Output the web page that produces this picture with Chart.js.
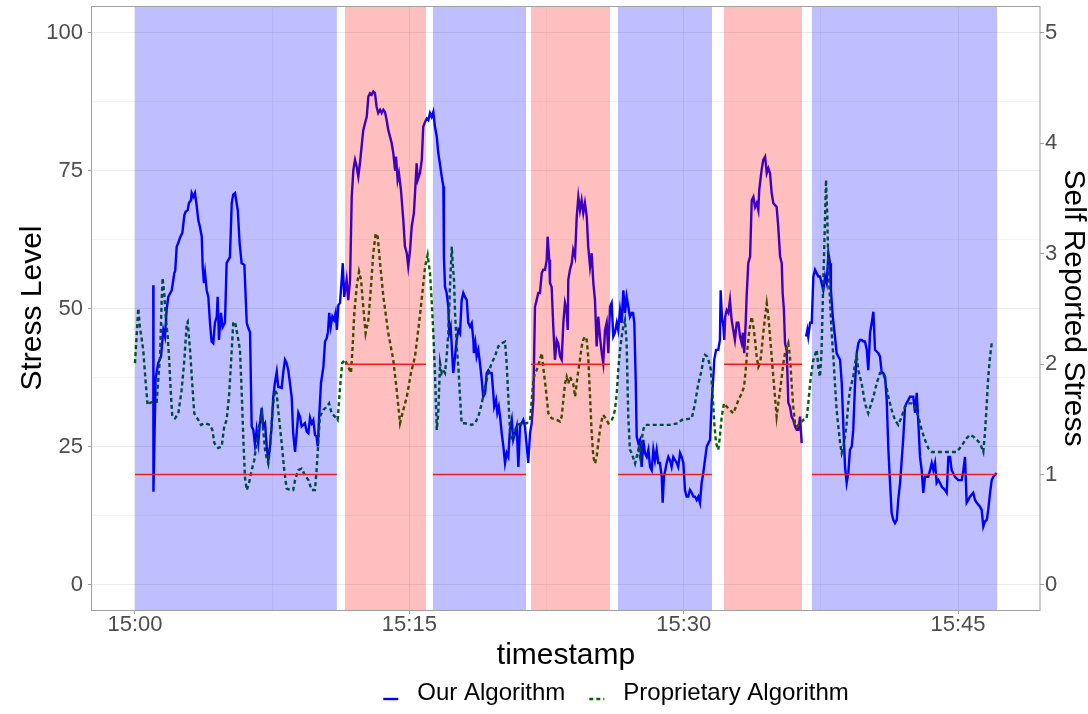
<!DOCTYPE html>
<html>
<head>
<meta charset="utf-8">
<title>Stress level</title>
<script src="https://cdn.jsdelivr.net/npm/chart.js@4.4.1/dist/chart.umd.min.js"></script>
<style>
  html, body { margin: 0; padding: 0; background: #fff; }
  #wrap { width: 1088px; height: 714px; }
</style>
</head>
<body>
<div id="wrap"><canvas id="stressChart" width="1088" height="714"></canvas></div>
<script>
// minutes after 15:00
const ourTime = [1.00,1.01,1.13,1.27,1.42,1.55,1.64,1.73,1.82,2.01,2.15,2.20,2.28,2.37,2.46,2.59,2.70,2.77,2.88,2.95,
  3.06,3.10,3.19,3.28,3.37,3.46,3.55,3.65,3.70,3.77,3.83,3.92,4.01,4.10,4.19,4.28,4.37,4.47,4.52,4.59,
  4.70,4.79,4.92,5.01,5.19,5.29,5.37,5.47,5.62,5.72,5.83,5.98,6.11,6.19,6.29,6.38,6.47,6.56,6.65,6.74,
  6.83,6.93,7.01,7.11,7.20,7.29,7.38,7.47,7.56,7.65,7.75,7.83,8.02,8.11,8.20,8.29,8.38,8.47,8.57,8.65,
  8.75,8.84,8.93,9.02,9.11,9.29,9.39,9.48,9.57,9.66,9.75,9.84,9.93,9.99,10.06,10.17,10.30,10.39,10.48,10.55,
  10.62,10.70,10.79,10.88,10.97,11.04,11.12,11.21,11.30,11.36,11.44,11.57,11.66,11.76,11.85,11.94,12.03,12.12,12.21,12.30,
  12.39,12.48,12.58,12.67,12.76,12.85,12.94,13.03,13.12,13.21,13.30,13.40,13.49,13.58,13.67,13.76,13.85,14.03,14.12,14.22,
  14.27,14.36,14.43,14.54,14.67,14.76,14.86,14.94,15.04,15.13,15.25,15.31,15.40,15.46,15.58,15.68,15.76,15.86,15.95,16.04,
  16.13,16.22,16.31,16.40,16.50,16.58,16.68,16.77,16.86,16.89,16.95,17.04,17.13,17.18,17.26,17.32,17.40,17.50,17.59,17.68,
  17.77,17.86,17.95,18.04,18.14,18.22,18.32,18.41,18.50,18.53,18.61,18.68,18.77,18.86,18.96,19.04,19.14,19.23,19.32,19.41,
  19.50,19.59,19.64,19.74,19.81,19.89,19.96,20.05,20.14,20.23,20.32,20.41,20.50,20.60,20.68,20.78,20.87,20.96,21.05,21.14,
  21.23,21.32,21.42,21.50,21.60,21.69,21.78,21.87,21.96,22.05,22.14,22.24,22.32,22.42,22.51,22.56,22.65,22.69,22.78,22.87,
  22.96,23.06,23.14,23.24,23.33,23.42,23.51,23.60,23.66,23.69,23.78,23.88,23.96,24.06,24.15,24.24,24.33,24.42,24.51,24.60,
  24.70,24.78,24.88,24.97,25.06,25.15,25.24,25.33,25.42,25.52,25.60,25.70,25.79,25.88,25.97,26.06,26.15,26.24,26.34,26.42,
  26.52,26.61,26.70,26.79,26.88,26.97,27.06,27.16,27.23,27.30,27.38,27.43,27.52,27.61,27.70,27.79,27.88,27.98,28.07,28.16,
  28.25,28.34,28.43,28.52,28.61,28.70,28.80,28.85,28.92,29.07,29.16,29.25,29.34,29.43,29.62,29.70,29.80,29.89,29.98,30.07,
  30.16,30.25,30.34,30.44,30.53,30.62,30.71,30.80,30.89,30.98,31.07,31.16,31.26,31.35,31.44,31.53,31.62,31.67,31.77,31.89,
  31.98,32.02,32.09,32.17,32.22,32.27,32.35,32.44,32.53,32.62,32.71,32.80,32.90,32.99,33.08,33.17,33.24,33.31,33.39,33.44,
  33.53,33.63,33.72,33.81,33.90,33.99,34.08,34.13,34.26,34.35,34.45,34.54,34.63,34.72,34.81,34.90,34.99,35.08,35.17,35.27,
  35.36,35.41,35.48,35.54,35.63,35.72,35.81,35.90,35.99,36.09,36.18,36.27,36.36,36.45,36.57,36.69,36.76,36.81,36.91,37.00,
  37.09,37.18,37.27,37.36,37.45,37.54,37.63,37.73,37.82,37.91,38.00,38.05,38.15,38.27,38.36,38.45,38.55,38.64,38.73,38.82,
  38.91,39.00,39.09,39.19,39.27,39.37,39.46,39.55,39.64,39.73,39.82,39.91,40.01,40.09,40.19,40.28,40.37,40.46,40.55,40.64,
  40.73,40.83,40.91,41.01,41.10,41.19,41.28,41.37,41.46,41.55,41.65,41.73,41.83,41.92,42.01,42.10,42.19,42.28,42.37,42.55,
  42.65,42.74,42.83,42.92,43.01,43.10,43.19,43.37,43.47,43.56,43.65,43.74,43.83,43.92,44.01,44.11,44.29,44.38,44.47,44.56,
  44.65,44.83,45.01,45.20,45.29,45.38,45.47,45.56,45.65,45.83,45.93,46.02,46.20,46.29,46.38,46.47,46.57,46.65,46.75,46.84,
  46.93,47.11];
const ourStress = [54.3,16.9,37.5,40.2,41.3,46.2,45.0,49.8,52.2,53.4,56.5,56.9,61.3,62.0,62.9,63.8,67.0,67.6,67.9,69.2,
  69.7,71.0,70.3,71.0,68.8,66.1,64.9,63.1,57.7,54.7,56.5,53.4,52.2,47.5,44.1,43.8,47.5,48.6,52.2,44.4,
  49.3,46.7,47.5,58.3,59.4,69.2,70.7,71.0,67.9,62.0,58.3,58.0,47.5,46.6,45.8,28.7,28.1,25.4,28.1,25.7,
  29.3,32.1,28.7,29.3,25.1,22.6,25.1,28.7,34.1,36.6,38.6,35.9,35.7,38.6,40.8,40.2,38.9,36.6,33.9,27.5,
  24.1,27.5,31.2,30.5,28.7,29.3,27.8,27.5,30.3,29.3,29.9,27.2,26.9,25.1,29.9,36.6,39.5,44.1,44.7,45.8,
  49.3,46.8,48.6,48.0,49.3,46.2,50.7,51.1,55.3,58.3,52.2,55.3,51.6,55.3,70.3,75.2,77.0,75.8,74.0,76.4,
  79.4,82.4,83.7,84.8,88.5,89.1,88.8,89.4,89.1,86.6,85.5,86.1,85.5,86.1,85.7,84.2,82.4,80.1,78.3,75.2,
  77.6,73.4,74.6,71.6,66.1,61.3,60.1,57.7,60.7,64.9,67.4,71.0,76.4,73.4,74.6,77.0,83.0,83.9,84.5,84.2,
  85.5,84.8,85.7,83.0,81.2,78.3,76.1,74.0,72.2,59.5,54.0,52.9,50.4,45.7,46.8,43.2,38.4,41.4,44.4,46.2,
  45.6,51.6,52.9,52.2,51.6,47.5,46.8,47.4,44.4,42.0,43.8,41.4,42.6,40.2,37.1,34.1,34.7,38.4,38.9,38.4,
  38.4,34.8,32.3,33.5,31.2,32.3,30.5,27.5,25.1,22.1,23.9,23.2,28.1,29.9,26.3,27.5,28.7,21.4,28.7,29.3,
  29.9,28.7,25.1,22.1,27.5,29.3,33.5,50.4,51.6,52.9,52.9,56.5,57.1,57.1,58.9,63.1,58.9,54.7,54.0,46.8,
  40.8,44.4,43.8,41.4,40.8,47.5,51.1,49.8,46.2,55.3,57.1,58.3,60.7,59.5,66.7,70.3,67.9,69.7,67.4,69.2,
  66.7,61.3,57.7,60.1,54.7,51.6,43.2,48.6,45.0,42.0,40.2,46.2,47.5,42.0,50.4,51.1,45.0,45.7,47.5,46.2,
  49.8,47.5,53.4,49.3,52.2,50.4,48.6,49.3,49.3,47.5,36.6,26.9,25.7,26.3,21.4,26.3,23.9,23.2,24.5,21.4,
  20.8,24.5,22.6,24.5,22.1,22.1,19.6,14.9,19.6,22.1,23.2,22.6,21.4,23.2,22.1,21.4,23.9,23.2,22.1,17.2,
  16.0,16.0,17.2,16.7,16.0,16.0,15.4,16.0,14.9,18.5,20.3,22.6,25.1,25.7,26.3,33.0,37.7,40.8,42.6,42.6,
  44.4,53.4,48.6,46.8,44.4,48.6,49.8,49.3,51.6,48.0,46.2,44.4,47.5,47.5,45.0,43.8,45.7,42.0,47.5,52.2,
  58.3,59.5,69.7,70.3,68.5,69.2,67.9,71.6,75.2,77.0,77.6,74.6,75.5,74.6,71.0,69.2,68.8,68.5,64.9,59.5,
  58.3,52.9,49.8,43.8,42.6,33.0,32.3,30.5,29.9,28.7,28.1,28.1,30.5,25.7,null,45.0,46.2,45.0,47.5,47.5,
  55.9,57.1,56.5,55.9,55.9,54.7,53.4,55.9,54.7,60.1,58.3,53.4,48.6,45.0,42.0,41.4,40.8,36.6,28.7,21.4,
  18.5,20.3,24.5,25.1,28.1,36.6,42.0,43.8,44.4,44.4,44.1,44.1,42.6,38.9,45.7,47.5,49.5,42.6,42.3,42.0,
  41.4,38.4,38.4,37.7,33.5,24.5,18.5,13.0,11.8,11.2,11.8,15.4,18.5,22.6,26.9,32.3,33.0,33.5,34.1,34.1,
  31.2,34.8,29.3,23.2,20.8,16.7,19.6,19.6,20.8,22.1,20.8,22.1,18.5,19.0,18.5,17.8,17.2,16.7,23.2,23.2,
  20.8,19.6,19.0,19.0,20.8,23.2,14.9,15.4,16.0,16.7,15.4,14.9,14.2,13.6,10.6,11.5,11.8,13.6,16.7,19.0,
  19.6,20.3];

const propTime = [0.00,0.18,0.27,0.45,0.59,0.69,0.82,1.00,1.19,1.27,1.37,1.46,1.51,1.60,1.68,1.79,1.88,1.95,2.04,2.19,
  2.37,2.55,2.70,2.83,2.88,3.01,3.13,3.24,3.46,3.61,3.83,4.10,4.23,4.34,4.55,4.74,4.88,5.01,5.14,5.25,
  5.37,5.47,5.62,5.74,5.83,5.92,6.01,6.11,6.23,6.38,6.52,6.65,6.78,6.93,7.01,7.11,7.20,7.29,7.38,7.47,
  7.56,7.65,7.75,7.83,8.02,8.16,8.29,8.47,8.65,8.75,8.93,9.11,9.29,9.48,9.66,9.84,9.93,10.02,10.11,10.30,
  10.48,10.61,10.75,10.93,11.08,11.21,11.33,11.48,11.66,11.81,11.88,11.99,12.12,12.25,12.36,12.48,12.61,12.76,12.90,13.03,
  13.16,13.27,13.40,13.58,13.85,14.12,14.31,14.49,14.67,14.86,15.09,15.31,15.53,15.71,15.86,16.00,16.13,16.22,16.31,16.40,
  16.50,16.58,16.68,16.77,16.86,16.95,17.04,17.13,17.22,17.32,17.37,17.44,17.50,17.59,17.68,17.77,17.86,18.04,18.41,18.59,
  18.77,18.96,19.14,19.32,19.50,19.68,19.86,20.05,20.23,20.32,20.41,20.50,20.60,20.68,20.87,21.14,21.42,21.60,21.69,21.78,
  21.87,21.96,22.14,22.24,22.32,22.47,22.60,22.78,23.06,23.24,23.33,23.42,23.51,23.60,23.69,23.78,23.96,24.06,24.15,24.24,
  24.33,24.42,24.51,24.60,24.70,24.78,24.88,24.97,25.06,25.15,25.24,25.33,25.42,25.52,25.60,25.79,25.88,26.06,26.15,26.24,
  26.34,26.42,26.52,26.61,26.70,26.79,26.88,26.93,26.97,27.06,27.16,27.34,27.43,27.52,27.61,27.70,27.79,27.88,28.61,29.25,
  29.70,29.89,30.44,30.62,30.80,30.98,31.07,31.16,31.29,31.40,31.49,31.59,31.67,31.77,31.89,31.98,32.08,32.20,32.35,32.53,
  32.71,32.86,32.99,33.17,33.30,33.39,33.48,33.59,33.72,33.81,33.90,33.99,34.08,34.18,34.26,34.35,34.45,34.54,34.63,34.72,
  34.81,34.90,34.99,35.08,35.17,35.27,35.36,35.45,35.54,35.72,35.81,35.90,35.99,36.09,36.18,36.36,36.54,36.72,36.81,36.91,
  37.00,37.09,37.27,37.36,37.45,37.54,37.63,37.73,37.78,37.85,37.91,38.00,38.09,38.18,38.27,38.36,38.55,38.64,38.73,38.82,
  38.91,39.00,39.09,39.27,39.37,39.46,39.55,39.73,39.91,40.09,40.37,40.55,40.73,40.91,41.01,41.19,41.37,41.55,41.73,41.92,
  42.10,42.28,42.46,42.65,42.83,43.01,43.19,43.37,43.56,44.92,45.10,45.29,45.47,45.65,45.83,46.02,46.20,46.38,46.47,46.57,
  46.65,46.75,46.84,46.97];
const propStress = [40.2,50.1,46.8,42.6,36.5,32.6,33.0,33.2,33.2,37.1,41.4,51.6,55.6,52.8,48.6,45.0,40.2,35.3,30.5,30.2,
  31.1,35.3,40.8,47.4,47.7,42.6,36.5,31.1,29.9,29.0,29.3,29.0,28.1,25.7,24.8,25.1,28.7,29.9,34.1,40.2,
  47.4,47.7,45.0,42.6,35.3,26.9,19.6,17.2,18.4,20.8,22.6,25.7,28.7,31.1,28.1,24.5,23.0,22.0,24.5,29.3,
  32.9,35.3,34.7,31.7,25.7,20.8,17.5,17.2,17.2,19.0,20.8,21.1,19.9,19.0,17.2,17.2,20.8,25.7,30.5,31.7,
  32.3,32.9,31.1,30.5,29.9,35.7,40.2,40.8,39.5,38.4,42.0,49.2,54.0,56.8,55.3,50.4,45.6,48.0,54.0,60.1,
  63.7,63.1,58.3,52.2,45.6,40.8,35.3,29.3,31.7,34.1,38.4,41.4,47.4,52.8,57.7,59.8,56.5,51.6,45.6,38.4,
  28.1,31.1,40.2,38.4,38.9,38.4,41.4,45.6,54.0,61.3,58.3,55.3,49.2,43.2,39.5,34.1,29.3,29.3,29.0,29.3,
  30.5,32.9,35.9,38.4,40.2,41.4,43.2,43.8,44.1,40.2,34.1,28.1,26.3,26.9,29.0,29.3,29.3,29.9,33.5,37.1,
  38.4,38.9,40.8,42.0,39.5,35.3,31.1,30.2,29.9,29.6,30.5,33.5,36.5,37.7,36.5,37.7,36.5,34.1,36.5,38.9,
  40.8,43.2,44.4,45.0,44.4,41.4,34.1,27.5,23.2,22.0,23.2,25.7,28.1,29.9,30.8,29.9,29.3,29.9,30.5,31.7,
  34.7,38.9,42.6,45.0,46.8,48.0,43.8,36.5,30.5,24.5,23.9,22.0,23.2,24.5,23.2,26.3,28.1,29.0,29.0,29.0,
  29.3,29.9,30.2,32.9,36.5,38.9,40.8,41.7,41.4,40.2,38.9,34.1,29.3,25.7,24.5,26.9,30.5,32.9,32.3,31.7,
  31.1,32.3,33.5,34.7,35.9,38.9,42.6,46.2,48.6,46.8,44.4,41.4,39.5,40.2,42.6,45.6,48.6,51.0,48.6,45.0,
  41.4,37.7,34.1,30.5,32.9,35.3,37.7,40.2,42.0,43.8,41.4,36.5,32.3,29.3,28.7,29.3,29.9,30.2,32.9,36.5,
  38.9,40.8,42.6,39.5,37.7,42.6,54.7,66.7,73.4,66.7,57.7,51.6,45.6,41.4,36.5,31.7,25.7,23.9,25.1,26.9,
  29.3,32.9,35.3,37.7,40.2,41.4,38.9,36.5,32.9,31.1,34.1,36.5,38.4,38.4,37.1,34.1,31.7,29.9,29.0,30.5,
  32.3,32.9,32.9,32.3,30.5,28.1,26.3,24.8,24.1,24.1,24.8,25.7,26.6,27.2,26.9,26.3,25.7,24.1,27.5,32.9,
  37.7,41.4,43.8,44.1];

// session blocks: baseline (blue) / stressor (red) with the self-reported score
const phaseStart = [0.00, 11.48, 16.29, 21.65, 26.41, 32.20, 37.01];
const phaseEnd = [11.04, 15.91, 21.38, 25.97, 31.55, 36.47, 47.13];
const phaseKind = ['baseline', 'stressor', 'baseline', 'stressor', 'baseline', 'stressor', 'baseline'];
const selfReported = [1, 2, 1, 2, 1, 2, 1];

const xTickValues = [0, 15, 30, 45];
const xTickLabels = ['15:00', '15:15', '15:30', '15:45'];

const FONT = '"Liberation Sans", Arial, Helvetica, sans-serif';
Chart.defaults.font.family = FONT;

const xMin = -2.35, xMax = 49.48;
const yMin = -4.53, yMax = 104.89;

const GRID_MAJOR = 'rgba(0,0,0,0.08)';
const GRID_MINOR = 'rgba(0,0,0,0.045)';
const TICK_COL = '#a0a0a0';

const toPoints = (xs, ys) => xs.map((t, i) => ({x: t, y: ys[i]}));

const shading = {
  id: 'shading',
  afterDatasetsDraw(chart) {
    const {ctx, chartArea: a, scales: {x, y2}} = chart;
    ctx.save();
    // translucent blocks go over the traces
    phaseStart.forEach((s, i) => {
      const x0 = x.getPixelForValue(s), x1 = x.getPixelForValue(phaseEnd[i]);
      ctx.fillStyle = phaseKind[i] === 'stressor' ? 'rgba(255,0,0,0.25)' : 'rgba(0,0,255,0.25)';
      ctx.fillRect(x0, a.top, x1 - x0, a.bottom - a.top);
    });
    ctx.strokeStyle = 'rgb(240,30,30)';
    ctx.lineWidth = 1.5;
    phaseStart.forEach((s, i) => {
      const x0 = x.getPixelForValue(s), x1 = x.getPixelForValue(phaseEnd[i]);
      const yy = y2.getPixelForValue(selfReported[i]);
      ctx.beginPath();
      ctx.moveTo(x0, yy);
      ctx.lineTo(x1, yy);
      ctx.stroke();
    });
    ctx.strokeStyle = TICK_COL;
    ctx.lineWidth = 1;
    ctx.strokeRect(a.left - 0.5, a.top + 0.5, a.right - a.left + 0.5, a.bottom - a.top);
    ctx.restore();
  }
};

const keyRow = {
  id: 'keyRow',
  afterDraw(chart) {
    const {ctx} = chart;
    const keyLen = 15, keyGap = 19, itemGap = 24;
    const centerX = 616, baseY = 700, lineY = 699;
    ctx.save();
    ctx.font = '24px ' + FONT;
    const items = chart.data.datasets.map(d => ({
      text: d.label, color: d.borderColor, dash: d.borderDash || [], w: ctx.measureText(d.label).width
    }));
    let total = 0;
    items.forEach((it, i) => { total += keyLen + keyGap + it.w + (i ? itemGap : 0); });
    let cx = centerX - total / 2;
    items.forEach((it, i) => {
      if (i) cx += itemGap;
      ctx.strokeStyle = it.color;
      ctx.lineWidth = 2.4;
      ctx.setLineDash(it.dash);
      ctx.beginPath();
      ctx.moveTo(cx, lineY);
      ctx.lineTo(cx + keyLen, lineY);
      ctx.stroke();
      ctx.setLineDash([]);
      cx += keyLen + keyGap;
      ctx.fillStyle = '#000';
      ctx.textBaseline = 'alphabetic';
      ctx.fillText(it.text, cx, baseY);
      cx += it.w;
    });
    ctx.restore();
  }
};

new Chart(document.getElementById('stressChart'), {
  type: 'line',
  data: {
    datasets: [{
      label: 'Our Algorithm',
      data: toPoints(ourTime, ourStress),
      borderColor: 'rgb(0,0,255)',
      borderWidth: 2.4,
      pointRadius: 0,
      tension: 0,
      yAxisID: 'y',
      order: 2
    }, {
      label: 'Proprietary Algorithm',
      data: toPoints(propTime, propStress),
      borderColor: 'rgb(0,100,0)',
      borderDash: [4, 3],
      borderWidth: 2.4,
      pointRadius: 0,
      tension: 0,
      yAxisID: 'y',
      order: 1
    }]
  },
  options: {
    responsive: false,
    animation: false,
    devicePixelRatio: 1,
    layout: { padding: { top: 6, left: 0, right: 0, bottom: 43.5 } },
    plugins: { legend: { display: false }, tooltip: { enabled: false } },
    scales: {
      x: {
        type: 'linear', min: xMin, max: xMax,
        border: { display: false },
        grid: {
          color: c => xTickValues.includes(c.tick.value) ? GRID_MAJOR : GRID_MINOR,
          tickColor: c => xTickValues.includes(c.tick.value) ? TICK_COL : 'rgba(0,0,0,0)',
          tickLength: 4
        },
        ticks: {
          stepSize: 7.5, includeBounds: false, autoSkip: false, maxRotation: 0,
          color: '#4d4d4d', font: { size: 22, lineHeight: 1 }, padding: 0,
          callback: v => { const k = xTickValues.indexOf(v); return k < 0 ? '' : xTickLabels[k]; }
        },
        title: { display: true, text: 'timestamp', color: '#000', font: { size: 30, lineHeight: 1 }, padding: { top: 0, bottom: 0 } },
        afterFit: s => { s.height = 60.5; s.paddingLeft = 0; s.paddingRight = 0; }
      },
      y: {
        position: 'left', min: yMin, max: yMax,
        border: { display: false },
        grid: {
          color: c => c.tick.value % 25 === 0 ? GRID_MAJOR : GRID_MINOR,
          tickColor: c => c.tick.value % 25 === 0 ? TICK_COL : 'rgba(0,0,0,0)',
          tickLength: 4
        },
        ticks: {
          stepSize: 12.5, includeBounds: false, color: '#4d4d4d', font: { size: 22 }, padding: 5,
          callback: v => v % 25 === 0 ? String(v) : ''
        },
        title: { display: true, text: 'Stress Level', color: '#000', font: { size: 30, lineHeight: 1 }, padding: { top: 18, bottom: 0 } },
        afterFit: s => { s.width = 92; s.paddingTop = 0; s.paddingBottom = 0; }
      },
      y2: {
        position: 'right', min: yMin / 20, max: yMax / 20,
        border: { display: false },
        grid: { drawOnChartArea: false, tickColor: TICK_COL, tickLength: 4 },
        ticks: { stepSize: 1, includeBounds: false, color: '#4d4d4d', font: { size: 22 }, padding: 1 },
        title: { display: true, text: 'Self Reported Stress', color: '#000', font: { size: 30, lineHeight: 1 }, padding: { top: 0, bottom: 0 } },
        afterFit: s => { s.width = 48; s.paddingTop = 0; s.paddingBottom = 0; }
      }
    }
  },
  plugins: [shading, keyRow]
});
</script>
</body>
</html>
